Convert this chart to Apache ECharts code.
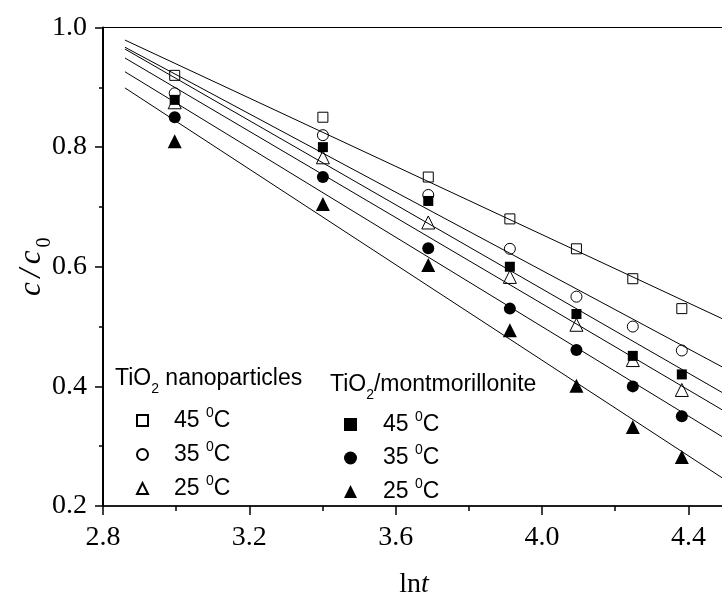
<!DOCTYPE html>
<html>
<head>
<meta charset="utf-8">
<script src="https://cdn.jsdelivr.net/npm/echarts@6/dist/echarts.min.js"></script>
<style>
html,body{margin:0;padding:0;background:#fff;}
#chart{width:722px;height:597px;}
</style>
</head>
<body>
<div id="chart"></div>
<script>
// ---- data ----
const lnT = [2.996, 3.401, 3.689, 3.912, 4.094, 4.248, 4.382];
const nano45 = [0.92, 0.85, 0.75, 0.68, 0.63, 0.58, 0.53];
const nano35 = [0.89, 0.82, 0.72, 0.63, 0.55, 0.50, 0.46];
const nano25 = [0.875, 0.783, 0.674, 0.583, 0.503, 0.444, 0.394];
const mont45 = [0.879, 0.80, 0.71, 0.60, 0.521, 0.451, 0.42];
const mont35 = [0.85, 0.75, 0.631, 0.53, 0.461, 0.40, 0.35];
const mont25 = [0.81, 0.705, 0.603, 0.494, 0.401, 0.332, 0.282];
// fitted straight lines: y at the two end x values
const fitX = [2.86, 4.5];
const nano45Fit = [0.979, 0.511];
const nano35Fit = [0.967, 0.430];
const nano25Fit = [0.949, 0.358];
const mont45Fit = [0.964, 0.387];
const mont35Fit = [0.926, 0.313];
const mont25Fit = [0.899, 0.244];
const xTicks = [2.8, 3.2, 3.6, 4.0, 4.4];
const yTicks = [0.2, 0.4, 0.6, 0.8, 1.0];
const tempLabels = {nano45:'45', nano35:'35', nano25:'25', mont45:'45', mont35:'35', mont25:'25'};

const pts = ys => lnT.map((x, i) => [x, ys[i]]);
const fitPts = ys => fitX.map((x, i) => [x, ys[i]]);

const SANS = 'Liberation Sans';
const SERIF = 'Liberation Serif';
function richLegend(pad) {
  return {
    p: {fontFamily: SANS, fontSize: 23, width: pad, padding: [6, 0, 6, 0], verticalAlign: 'top'},
    a: {fontFamily: SANS, fontSize: 23, fontWeight: 'normal', color: '#000', padding: [6, 0, 6, 0], verticalAlign: 'top'},
    s: {fontFamily: SANS, fontSize: 14, fontWeight: 'normal', color: '#000', padding: [3, 0, 0, 0], verticalAlign: 'top'}
  };
}
const richTitle = {
  a: {fontFamily: SANS, fontSize: 23, fontWeight: 'normal', color: '#000', padding: [6, 0, 6, 0], verticalAlign: 'top'},
  b: {fontFamily: SANS, fontSize: 14, fontWeight: 'normal', color: '#000', padding: [21, 0, 0, 0], verticalAlign: 'top', lineHeight: 14}
};

function lineSeries(name, ys) {
  return {
    name: name, type: 'line', data: fitPts(ys), symbol: 'none', silent: true,
    lineStyle: {color: '#000', width: 1}, clip: true, z: 1
  };
}
function scatter(name, ys, symbol, size, filled) {
  return {
    name: name, type: 'scatter', data: pts(ys), symbol: symbol, symbolSize: size, z: filled ? 3 : 4,
    itemStyle: filled ? {color: '#000', borderColor: '#000', borderWidth: 0, opacity: 1}
                      : {color: 'rgba(255,255,255,0)', borderColor: '#000', borderWidth: 1, opacity: 1}
  };
}

const chart = echarts.init(document.getElementById('chart'), null, {renderer: 'canvas'});
const axisLabelX = {
  fontFamily: SERIF, fontSize: 28, color: '#000', margin: 18,
  formatter: v => xTicks.some(t => Math.abs(t - v) < 1e-6) ? v.toFixed(1) : ''
};
chart.setOption({
  animation: false,
  backgroundColor: '#fff',
  grid: {left: 103, top: 27.5, width: 622, height: 478.5, containLabel: false, outerBoundsMode: 'none',
         show: true, borderColor: '#000', borderWidth: 1, backgroundColor: 'transparent'},
  title: [
    {left: 115, top: 361, padding: 0, text: '{a|TiO}{b|2}{a| nanoparticles}', textStyle: {fontWeight: 'normal', rich: richTitle}},
    {left: 330, top: 367, padding: 0, text: '{a|TiO}{b|2}{a|/montmorillonite}', textStyle: {fontWeight: 'normal', rich: richTitle}}
  ],
  legend: [
    {data: ['nano45', 'nano35', 'nano25'], orient: 'vertical', left: 136, top: 406, padding: 0,
     itemWidth: 11, itemHeight: 11, itemGap: 8, selectedMode: false,
     formatter: n => '{p| }{a|' + tempLabels[n] + ' }{s|0}{a|C}', textStyle: {rich: richLegend(21)}},
    {data: ['mont45', 'mont35', 'mont25'], orient: 'vertical', left: 344, top: 410, padding: 0,
     itemWidth: 13, itemHeight: 13, itemGap: 7.5, selectedMode: false,
     formatter: n => '{p| }{a|' + tempLabels[n] + ' }{s|0}{a|C}', textStyle: {rich: richLegend(21)}}
  ],
  xAxis: [
    {type: 'value', min: 2.8, max: 4.5, interval: 0.4, position: 'bottom',
     name: '{a|ln}{i|t}', nameLocation: 'middle', nameGap: 65, nameMoveOverlap: false,
     nameTextStyle: {rich: {a: {fontFamily: SERIF, fontSize: 28, color: '#000'}, i: {fontFamily: SERIF, fontSize: 28, fontStyle: 'italic', color: '#000'}}},
     axisLine: {show: true, onZero: false, lineStyle: {color: '#000', width: 1.5}},
     axisTick: {show: true, inside: false, length: 9, lineStyle: {color: '#000', width: 1.5}},
     axisLabel: axisLabelX, splitLine: {show: false}},
    {type: 'value', min: 2.8, max: 4.5, interval: 0.2, position: 'bottom',
     axisLine: {show: false, onZero: false},
     axisTick: {show: true, inside: false, length: 5, lineStyle: {color: '#000', width: 1.5}},
     axisLabel: {show: false}, splitLine: {show: false}}
  ],
  yAxis: {
    type: 'value', min: 0.2, max: 1.0, interval: 0.2,
    name: '{c|c}{sl|/}{c|c}{s|0}', nameLocation: 'middle', nameGap: 50, nameRotate: 90, nameMoveOverlap: false,
    nameTextStyle: {rich: {
      c: {fontFamily: SERIF, fontSize: 31, fontStyle: 'italic', color: '#000', padding: [6, 0, 6, 0], verticalAlign: 'top'},
      sl: {fontFamily: SERIF, fontSize: 31, fontStyle: 'italic', color: '#000', padding: [6, 0, 6, 0], verticalAlign: 'top', width: 18, align: 'center'},
      s: {fontFamily: SERIF, fontSize: 20, color: '#000', padding: [25, 0, 0, 3], verticalAlign: 'top', lineHeight: 20}
    }},
    axisLine: {show: true, onZero: false, lineStyle: {color: '#000', width: 2}},
    axisTick: {show: true, inside: false, length: 8, lineStyle: {color: '#000', width: 1.5}},
    minorTick: {show: true, splitNumber: 2, length: 4, lineStyle: {color: '#000', width: 1.5}},
    axisLabel: {fontFamily: SERIF, fontSize: 28, color: '#000', margin: 16, formatter: v => v.toFixed(1)},
    splitLine: {show: false}
  },
  series: [
    lineSeries('fit1', nano45Fit),
    lineSeries('fit2', nano35Fit),
    lineSeries('fit3', nano25Fit),
    lineSeries('fit4', mont45Fit),
    lineSeries('fit5', mont35Fit),
    lineSeries('fit6', mont25Fit),
    scatter('mont45', mont45, 'rect', 10, true),
    scatter('mont35', mont35, 'circle', 12, true),
    scatter('mont25', mont25, 'triangle', 14, true),
    scatter('nano45', nano45, 'rect', 10, false),
    scatter('nano35', nano35, 'circle', 11, false),
    scatter('nano25', nano25, 'triangle', 13, false)
  ]
});
</script>
</body>
</html>
